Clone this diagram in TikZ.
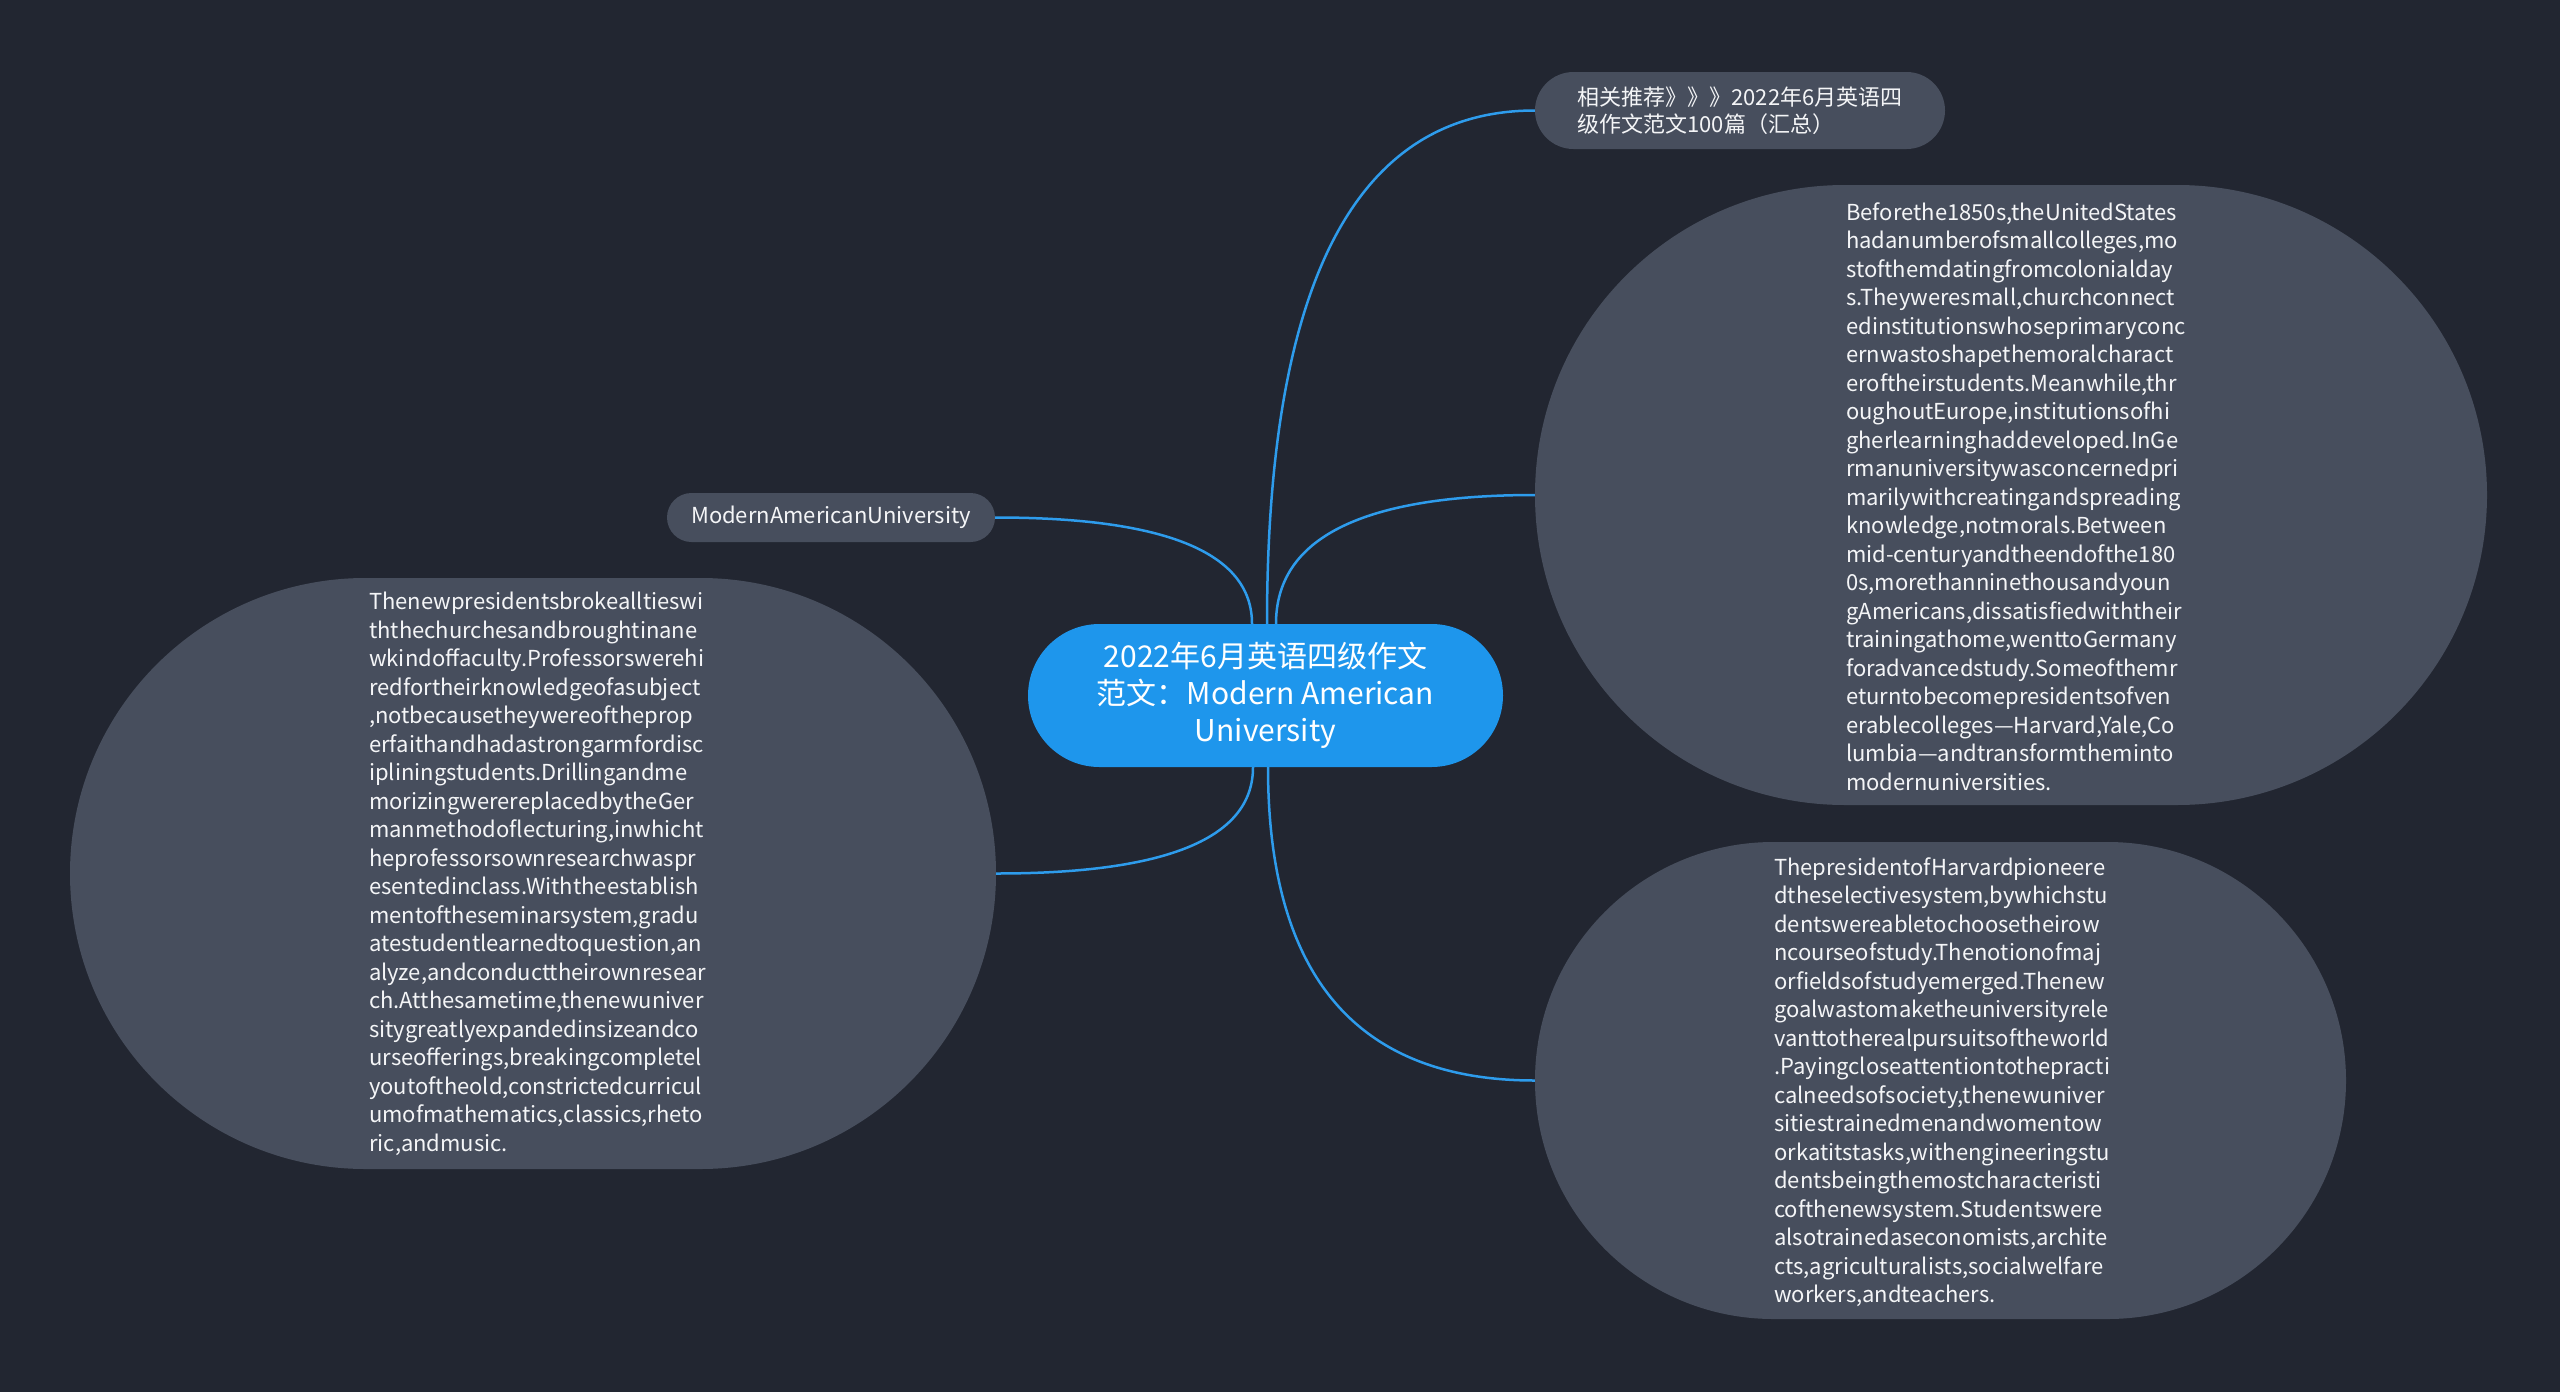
\documentclass[tikz,border=0pt]{standalone}
\usepackage{fontspec}
\setmainfont{Noto Sans CJK SC}
\usetikzlibrary{calc}
\definecolor{bgc}{HTML}{222631}
\definecolor{boxc}{HTML}{474E5D}
\definecolor{mainc}{HTML}{1E96EC}
\definecolor{linec}{HTML}{2E9CEC}
\definecolor{txtc}{HTML}{F4F5F7}
\begin{document}
\begin{tikzpicture}[x=1pt,y=-1pt,
  conn/.style={draw=linec,line width=2.5pt},
  pill/.style={fill=boxc,draw=none,inner sep=0pt,text=txtc},
  body/.style={text=txtc,inner sep=0pt,align=left,anchor=north west,font=\fontsize{22pt}{28.5pt}\selectfont}]
\fill[bgc] (0,0) rectangle (2560,1392);
\useasboundingbox (0,0) rectangle (2560,1392);

% central
\node[fill=mainc,text=white,rounded corners=71.5pt,minimum width=475pt,minimum height=143pt,
  align=center,inner sep=0pt,font=\fontsize{30pt}{37pt}\selectfont] (c) at (1265.5,695.5)
  {2022年6月英语四级作文\\范文：Modern American\\University};

% top recommendation
\node[pill,rounded corners=38.5pt,minimum width=410pt,minimum height=77pt,align=left,
  font=\fontsize{22pt}{27pt}\selectfont] (t) at (1740,110.5)
  {相关推荐》》》2022年6月英语四\\级作文范文100篇（汇总）};

% title leaf
\node[pill,rounded corners=24.5pt,minimum width=328pt,minimum height=49pt,
  font=\fontsize{22pt}{27pt}\selectfont] (m) at (831,517.5) {ModernAmericanUniversity};

% left big
\node[pill,rounded corners=295.5pt,minimum width=926pt,minimum height=591pt] (l) at (533,873.5) {};
\node[body] (lt) at (369,592) {Thenewpresidentsbrokealltieswi\\ththechurchesandbroughtinane\\wkindoffaculty.Professorswerehi\\redfortheirknowledgeofasubject\\,notbecausetheywereoftheprop\\erfaithandhadastrongarmfordisc\\ipliningstudents.Drillingandme\\morizingwerereplacedbytheGer\\manmethodoflecturing,inwhicht\\heprofessorsownresearchwaspr\\esentedinclass.Withtheestablish\\mentoftheseminarsystem,gradu\\atestudentlearnedtoquestion,an\\alyze,andconducttheirownresear\\ch.Atthesametime,thenewuniver\\sitygreatlyexpandedinsizeandco\\urseofferings,breakingcompletel\\youtoftheold,constrictedcurricul\\umofmathematics,classics,rheto\\ric,andmusic.};

% right big 1
\node[pill,rounded corners=310pt,minimum width=952pt,minimum height=620pt] (r1) at (2011,495) {};
\node[body] (r1t) at (1846,202) {Beforethe1850s,theUnitedStates\\hadanumberofsmallcolleges,mo\\stofthemdatingfromcolonialday\\s.Theyweresmall,churchconnect\\edinstitutionswhoseprimaryconc\\ernwastoshapethemoralcharact\\eroftheirstudents.Meanwhile,thr\\oughoutEurope,institutionsofhi\\gherlearninghaddeveloped.InGe\\rmanuniversitywasconcernedpri\\marilywithcreatingandspreading\\knowledge,notmorals.Between\\mid-centuryandtheendofthe180\\0s,morethanninethousandyoun\\gAmericans,dissatisfiedwiththeir\\trainingathome,wenttoGermany\\foradvancedstudy.Someofthemr\\eturntobecomepresidentsofven\\erablecolleges—Harvard,Yale,Co\\lumbia—andtransformtheminto\\modernuniversities.};

% right big 2
\node[pill,rounded corners=238.5pt,minimum width=811pt,minimum height=477pt] (r2) at (1940.5,1080.5) {};
\node[body] (r2t) at (1774,857) {ThepresidentofHarvardpioneere\\dtheselectivesystem,bywhichstu\\dentswereabletochoosetheirow\\ncourseofstudy.Thenotionofmaj\\orfieldsofstudyemerged.Thenew\\goalwastomaketheuniversityrele\\vanttotherealpursuitsoftheworld\\.Payingcloseattentiontothepracti\\calneedsofsociety,thenewuniver\\sitiestrainedmenandwomentow\\orkatitstasks,withengineeringstu\\dentsbeingthemostcharacteristi\\cofthenewsystem.Studentswere\\alsotrainedaseconomists,archite\\cts,agriculturalists,socialwelfare\\workers,andteachers.};

% connector start points on the central node
\coordinate (s1) at ([xshift=-13.5pt]c.north);
\coordinate (s2) at ([xshift=1.5pt]c.north);
\coordinate (s3) at ([xshift=10.5pt]c.north);
\coordinate (s4) at ([xshift=-12.5pt]c.south);
\coordinate (s5) at ([xshift=2.5pt]c.south);

\draw[conn] (s1) .. controls ($(s1)!0.6667!(s1|-m.east)$) and ($(m.east)!0.6667!(s1|-m.east)$) .. (m.east);
\draw[conn] (s2) .. controls ($(s2)!0.6667!(s2|-t.west)$) and ($(t.west)!0.6667!(s2|-t.west)$) .. (t.west);
\draw[conn] (s3) .. controls ($(s3)!0.6667!(s3|-r1.west)$) and ($(r1.west)!0.6667!(s3|-r1.west)$) .. (r1.west);
\draw[conn] (s4) .. controls ($(s4)!0.6667!(s4|-l.east)$) and ($(l.east)!0.6667!(s4|-l.east)$) .. (l.east);
\draw[conn] (s5) .. controls ($(s5)!0.6667!(s5|-r2.west)$) and ($(r2.west)!0.6667!(s5|-r2.west)$) .. (r2.west);
\end{tikzpicture}
\end{document}
